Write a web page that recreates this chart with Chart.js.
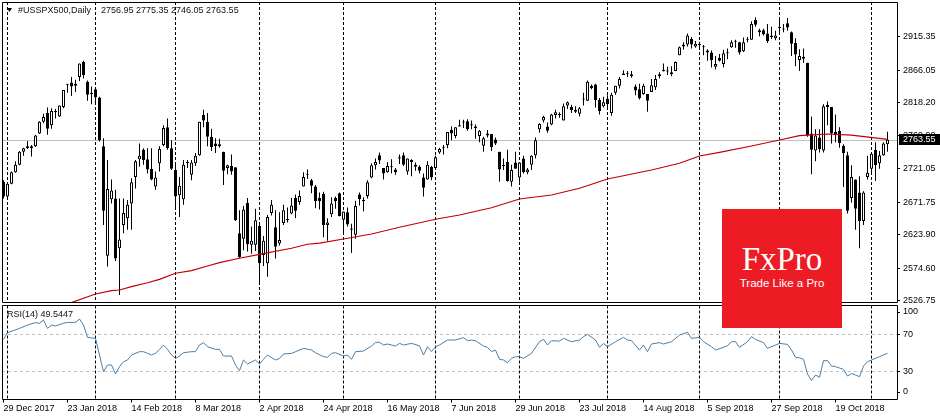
<!DOCTYPE html>
<html><head><meta charset="utf-8">
<script src="https://cdn.jsdelivr.net/npm/chart.js@4.4.1/dist/chart.umd.min.js"></script>
<style>
html,body{margin:0;padding:0;background:#fff;width:940px;height:420px;overflow:hidden;}
#wrap{position:relative;width:940px;height:420px;}
canvas{position:absolute;left:0;}
#main{top:0;}
#rsi{top:304px;}
#logo{position:absolute;left:722px;top:209px;width:120px;height:119px;background:#ED1B24;color:#fff;text-align:center;z-index:5;}
#logo .b{position:absolute;left:0;width:120px;top:34px;font-family:"Liberation Serif",serif;font-size:33px;line-height:33px;white-space:nowrap;}
#logo .s{position:absolute;left:0;width:120px;top:67px;font-family:"Liberation Sans",sans-serif;font-size:11.5px;line-height:14px;white-space:nowrap;}
</style></head><body>
<div id="wrap">
<canvas id="main" width="940" height="304"></canvas>
<canvas id="rsi" width="940" height="116"></canvas>
<div id="logo"><div class="b">FxPro</div><div class="s">Trade Like a Pro</div></div>
</div>
<script>
// ---------- DATA ----------
const headerSymbol = '#USSPX500,Daily';
const headerValues = '2756.95 2775.35 2746.05 2763.55';
const rsiLabel = 'RSI(14) 49.5447';
const lastPrice = 2763.55;

const priceTicks = [2526.75, 2574.60, 2623.90, 2671.75, 2721.05, 2769.90, 2818.20, 2866.05, 2915.35];
const rsiTicks = [0, 30, 70, 100];
const rsiLevels = [30, 70];

const tickIdx = [0,16,32,48,64,80,96,112,128,144,160,176,192,208];
const tickText = ['29 Dec 2017','23 Jan 2018','14 Feb 2018','8 Mar 2018','2 Apr 2018','24 Apr 2018','16 May 2018','7 Jun 2018','29 Jun 2018','23 Jul 2018','14 Aug 2018','5 Sep 2018','27 Sep 2018','19 Oct 2018'];
// first bar of each month (period separators)
const monthStartIdx = [1,23,43,64,85,108,129,151,174,194,217];

const opens = [
2702,2680,2699,2716,2727,2746,2751,2754,2754,2773,
2790,2803,2785,2806,2798,2812,2844,2848,2846,2856,
2878,2849,2833,2838,2826,2754,2593,2676,2677,2604,
2638,2648,2670,2709,2735,2749,2735,2721,2695,2729,
2756,2782,2751,2719,2682,2676,2731,2712,2729,2741,
2800,2790,2768,2758,2754,2746,2722,2725,2723,2626,
2618,2671,2609,2609,2637,2594,2582,2656,2635,2611,
2641,2647,2655,2678,2672,2695,2712,2704,2695,2678,
2684,2638,2654,2678,2685,2646,2657,2631,2624,2683,
2673,2681,2708,2726,2741,2722,2716,2723,2720,2738,
2741,2717,2734,2727,2724,2708,2705,2724,2722,2745,
2751,2756,2778,2769,2783,2789,2791,2786,2781,2769,
2755,2773,2772,2764,2746,2725,2731,2702,2730,2708,
2736,2716,2727,2741,2779,2792,2783,2786,2800,2800,
2792,2814,2812,2808,2802,2824,2821,2843,2845,2822,
2813,2824,2803,2833,2843,2859,2860,2860,2842,2838,
2831,2831,2834,2841,2857,2865,2864,2863,2865,2888,
2904,2904,2912,2901,2905,2900,2895,2892,2871,2884,
2875,2891,2900,2909,2907,2894,2910,2911,2940,2925,
2925,2920,2915,2913,2929,2927,2935,2922,2906,2881,
2886,2877,2773,2748,2767,2748,2815,2812,2775,2777,
2755,2741,2678,2705,2686,2644,2709,2721,2749,2729,
2741,2756.95];
const highs = [
2704,2699,2717,2732,2747,2752,2762,2756,2771,2791,
2802,2811,2810,2809,2814,2837,2846,2856,2852,2876,
2880,2851,2842,2840,2827,2766,2734,2705,2690,2677,
2677,2675,2707,2734,2758,2751,2751,2751,2717,2754,
2785,2795,2763,2731,2709,2734,2734,2734,2744,2790,
2808,2803,2780,2766,2765,2746,2727,2742,2723,2660,
2666,2678,2636,2662,2641,2622,2653,2675,2660,2657,
2668,2664,2678,2683,2689,2716,2720,2706,2697,2686,
2687,2648,2679,2680,2686,2658,2664,2640,2674,2686,
2679,2704,2729,2736,2745,2722,2731,2735,2722,2742,
2745,2736,2735,2730,2726,2714,2732,2725,2740,2752,
2756,2775,2783,2782,2793,2793,2794,2792,2786,2778,
2768,2778,2772,2767,2746,2736,2749,2727,2746,2730,
2740,2722,2741,2767,2788,2799,2789,2802,2808,2804,
2817,2820,2815,2813,2812,2833,2851,2845,2846,2825,
2827,2829,2833,2843,2856,2866,2865,2865,2845,2846,
2846,2831,2853,2859,2863,2876,2871,2872,2879,2901,
2907,2920,2915,2909,2908,2903,2897,2895,2887,2890,
2896,2898,2910,2911,2908,2914,2915,2938,2944,2927,
2927,2934,2930,2924,2940,2934,2943,2923,2913,2897,
2898,2877,2798,2779,2779,2816,2820,2812,2801,2782,
2757,2746,2726,2705,2710,2688,2740,2745,2760,2747,
2760,2775.35];
const lows = [
2677,2678,2698,2715,2726,2740,2750,2739,2753,2772,
2788,2771,2780,2795,2797,2810,2833,2828,2834,2850,
2854,2821,2816,2815,2761,2638,2577,2670,2585,2535,
2626,2631,2631,2692,2724,2727,2714,2704,2690,2717,
2754,2749,2719,2663,2650,2668,2722,2704,2725,2740,
2782,2754,2747,2744,2752,2697,2713,2712,2644,2589,
2601,2599,2596,2600,2553,2578,2562,2652,2589,2608,
2638,2642,2654,2648,2668,2695,2706,2685,2663,2661,
2620,2615,2650,2662,2651,2628,2636,2597,2618,2667,
2658,2677,2707,2720,2728,2705,2715,2714,2712,2728,
2725,2712,2710,2718,2714,2680,2705,2704,2722,2743,
2742,2751,2763,2766,2783,2781,2777,2779,2765,2760,
2746,2767,2747,2756,2702,2719,2702,2695,2721,2702,
2714,2713,2719,2736,2774,2789,2774,2785,2795,2796,
2792,2809,2803,2803,2798,2814,2821,2838,2811,2801,
2811,2809,2799,2830,2839,2859,2856,2855,2829,2823,
2830,2805,2834,2837,2854,2864,2859,2857,2865,2888,
2896,2901,2898,2899,2900,2888,2880,2870,2867,2879,
2870,2882,2899,2899,2889,2893,2907,2911,2930,2916,
2917,2906,2912,2910,2921,2922,2924,2887,2872,2865,
2877,2768,2713,2732,2745,2745,2785,2758,2760,2752,
2694,2655,2671,2631,2604,2638,2705,2712,2703,2721,
2740,2746.05];
const closes = [
2680,2699,2716,2727,2746,2751,2754,2751,2770,2790,
2797,2780,2806,2804,2814,2837,2845,2842,2843,2876,
2859,2830,2831,2826,2763,2659,2691,2689,2589,2617,
2656,2668,2701,2732,2740,2734,2720,2705,2708,2750,
2781,2751,2721,2680,2696,2727,2729,2730,2740,2790,
2792,2768,2753,2754,2757,2718,2726,2717,2645,2591,
2661,2610,2615,2645,2582,2615,2650,2668,2606,2616,
2660,2645,2667,2659,2681,2709,2712,2696,2673,2673,
2638,2642,2670,2673,2651,2658,2639,2633,2666,2676,
2675,2701,2726,2731,2733,2714,2725,2723,2716,2736,
2727,2736,2731,2724,2718,2693,2727,2708,2738,2750,
2752,2775,2773,2782,2785,2790,2779,2785,2783,2777,
2766,2770,2753,2758,2720,2726,2703,2719,2721,2730,
2716,2720,2740,2763,2787,2797,2777,2801,2804,2801,
2813,2819,2807,2805,2810,2823,2849,2840,2822,2806,
2819,2816,2830,2843,2853,2861,2861,2857,2836,2825,
2843,2821,2844,2853,2860,2866,2865,2860,2878,2900,
2901,2917,2904,2905,2903,2900,2892,2881,2875,2880,
2891,2892,2907,2908,2892,2907,2911,2934,2933,2922,
2919,2909,2917,2917,2928,2926,2929,2905,2889,2887,
2883,2770,2749,2770,2750,2813,2812,2773,2771,2759,
2744,2659,2709,2662,2644,2686,2715,2743,2726,2741,
2758,2763.55];

// 200-period moving average, read at bar indices
const maPoints = [[0,2478],[8,2497],[14,2512],[17,2524],[23,2536.6],[27,2541.5],[29,2542.5],[32,2547.4],[36,2553.2],[39,2558.2],[43,2567.1],[47,2570.9],[51,2577.8],[54,2582.7],[59,2589.2],[64,2595],[72,2603.9],[76,2609.8],[79,2611.5],[85,2617.6],[92,2624.9],[99,2634.8],[108,2646.6],[114,2652.9],[122,2663.6],[129,2676.4],[137,2682.3],[144,2692.2],[151,2705.9],[162,2719.1],[169,2729],[174,2739.8],[179,2745.2],[187,2754.5],[194,2763.3],[199,2769.6],[206,2772.1],[212,2770.6],[221,2764.3]];

// RSI(14), read at bar indices
const rsiPoints = [[0,64.5],[1,71.8],[4,76.4],[6,80.0],[8,82.6],[9,81.9],[10,85.5],[11,76.4],[12,80.0],[13,79.0],[15,81.9],[16,82.9],[18,82.9],[19,86.5],[20,80.0],[21,66.7],[23,65.6],[25,29.6],[26,36.8],[27,36.8],[28,27.1],[29,35.0],[30,40.4],[31,42.2],[32,47.6],[34,51.2],[35,51.2],[36,49.4],[37,47.6],[38,49.4],[39,53.7],[40,58.4],[41,53.7],[42,47.6],[43,44.0],[44,46.5],[45,50.1],[47,51.2],[48,51.2],[49,58.4],[50,61.0],[51,56.6],[53,53.7],[54,53.7],[55,46.5],[57,46.5],[58,36.8],[59,30.7],[60,42.2],[61,37.9],[63,42.2],[64,37.9],[65,43.0],[66,47.6],[68,42.2],[69,44.0],[70,48.7],[72,49.4],[73,51.2],[75,54.8],[77,53.0],[78,50.1],[80,45.8],[81,45.1],[82,49.4],[83,50.1],[85,46.5],[86,47.6],[87,43.0],[88,51.2],[90,51.9],[92,57.3],[93,61.3],[94,61.3],[95,58.4],[96,59.5],[98,57.3],[99,60.2],[100,58.4],[102,60.2],[104,57.5],[105,47.6],[106,56.6],[107,51.2],[108,56.6],[109,58.4],[111,63.8],[113,63.8],[115,66.3],[116,63.1],[117,63.8],[118,63.1],[120,57.3],[121,55.9],[122,51.2],[123,53.0],[124,43.0],[125,42.2],[126,39.3],[127,44.0],[128,45.8],[129,45.8],[130,44.0],[132,49.4],[134,62.0],[135,64.5],[136,58.4],[137,63.1],[139,62.7],[140,65.6],[142,62.0],[144,63.8],[145,67.4],[146,70.0],[148,63.8],[149,55.9],[150,60.2],[151,56.6],[153,62.0],[155,66.7],[156,63.8],[157,63.1],[159,53.0],[160,58.4],[161,51.2],[162,59.5],[164,61.0],[165,59.5],[167,62.0],[169,69.2],[171,72.1],[172,65.6],[174,66.7],[175,62.0],[177,56.6],[178,53.0],[180,55.9],[181,57.7],[182,62.0],[183,62.0],[184,55.9],[186,62.0],[187,67.4],[188,64.5],[190,61.0],[191,54.8],[193,58.4],[194,60.2],[196,59.1],[197,53.0],[198,45.1],[199,44.5],[200,43.0],[201,27.0],[202,19.9],[203,26.0],[204,23.5],[205,41.5],[206,41.5],[207,35.7],[208,35.0],[210,32.1],[211,24.9],[212,27.5],[213,26.0],[214,24.2],[215,35.7],[216,40.4],[217,42.2],[219,45.8],[221,49.5]];

// ---------- CHART ----------
Chart.defaults.font.family = 'Liberation Sans';
const FONT = '9px "Liberation Sans"';
const xMin = -0.375, xMax = 223.375;

const bodies = opens.map((o, i) => ({x: i, y: [o, closes[i]]}));
const wicks = lows.map((l, i) => ({x: i, y: [l, highs[i]]}));
const bodyColors = opens.map((o, i) => closes[i] >= o ? '#ffffff' : '#000000');

const mainDecor = {
  id: 'mainDecor',
  beforeDatasetsDraw(chart) {
    const {ctx, chartArea: a, scales: {x, y}} = chart;
    ctx.save();
    const py = Math.round(y.getPixelForValue(lastPrice)) + 0.5;
    ctx.strokeStyle = '#C0C0C0'; ctx.lineWidth = 1;
    ctx.beginPath(); ctx.moveTo(a.left, py); ctx.lineTo(a.right, py); ctx.stroke();
    ctx.strokeStyle = '#000'; ctx.setLineDash([3, 2]);
    monthStartIdx.forEach(i => {
      const px = x.getPixelForValue(i);
      ctx.beginPath(); ctx.moveTo(px, a.top); ctx.lineTo(px, a.bottom); ctx.stroke();
    });
    ctx.restore();
  },
  afterDraw(chart) {
    const {ctx, chartArea: a, scales: {y}} = chart;
    ctx.save();
    ctx.strokeStyle = '#000'; ctx.lineWidth = 1;
    const L = a.left + 0.5, R = a.right + 0.5, T = a.top + 0.5, B = Math.floor(a.bottom) + 0.5;
    ctx.beginPath();
    ctx.moveTo(L, T); ctx.lineTo(R, T); ctx.lineTo(R, B); ctx.lineTo(L, B); ctx.closePath();
    ctx.stroke();
    // header
    ctx.fillStyle = '#000';
    ctx.beginPath(); ctx.moveTo(7, 8); ctx.lineTo(12, 8); ctx.lineTo(9.5, 12); ctx.closePath(); ctx.fill();
    ctx.font = FONT; ctx.textBaseline = 'middle'; ctx.textAlign = 'left';
    ctx.fillStyle = '#111';
    ctx.fillText(headerSymbol, 18, 10.5);
    ctx.fillText(headerValues, 101, 10.5);
    // last price label
    const py = Math.round(y.getPixelForValue(lastPrice));
    ctx.fillStyle = '#000';
    ctx.fillRect(a.right + 2, py - 6, 940 - a.right - 2, 11);
    ctx.fillStyle = '#fff';
    ctx.fillText(lastPrice.toFixed(2), a.right + 6, py);
    ctx.restore();
  }
};

new Chart(document.getElementById('main'), {
  type: 'bar',
  data: {
    datasets: [
      {type: 'line', data: maPoints.map(p => ({x: p[0], y: p[1]})), borderColor: '#C00000', borderWidth: 1.2, pointRadius: 0, tension: 0, order: -1},
      {data: bodies, backgroundColor: bodyColors, borderColor: '#000', borderWidth: 1, borderSkipped: false, grouped: false, barPercentage: 0.75, categoryPercentage: 1, maxBarThickness: 3, minBarLength: 1, inflateAmount: 0, order: 0},
      {data: wicks, backgroundColor: '#000', borderWidth: 0, grouped: false, barPercentage: 0.25, categoryPercentage: 1, maxBarThickness: 1, inflateAmount: 0, order: 1}
    ]
  },
  options: {
    responsive: false, animation: false, devicePixelRatio: 1,
    layout: {padding: {left: 2, top: 2, right: 0, bottom: 1.5}},
    plugins: {legend: {display: false}, tooltip: {enabled: false}},
    scales: {
      x: {type: 'linear', min: xMin, max: xMax, display: false, offset: false},
      y: {
        type: 'linear', position: 'right', min: 2524.09, max: 2966.43,
        afterBuildTicks: s => { s.ticks = priceTicks.map(v => ({value: v})); },
        afterFit: s => { s.width = 43; s.paddingTop = 0; s.paddingBottom = 0; },
        ticks: {callback: v => Number(v).toFixed(2), font: {family: 'Liberation Sans', size: 9}, color: '#000', padding: 3, autoSkip: false},
        grid: {display: true, drawOnChartArea: false, drawTicks: true, tickLength: 3, color: '#000'},
        border: {display: false}
      }
    }
  },
  plugins: [mainDecor]
});

const rsiDecor = {
  id: 'rsiDecor',
  beforeDatasetsDraw(chart) {
    const {ctx, chartArea: a, scales: {x, y}} = chart;
    ctx.save();
    ctx.lineWidth = 1;
    ctx.strokeStyle = '#C0C0C0'; ctx.setLineDash([3, 3]);
    rsiLevels.forEach(v => {
      const py = Math.round(y.getPixelForValue(v)) + 0.5;
      ctx.beginPath(); ctx.moveTo(a.left, py); ctx.lineTo(a.right, py); ctx.stroke();
    });
    ctx.strokeStyle = '#000'; ctx.setLineDash([3, 2]);
    monthStartIdx.forEach(i => {
      const px = x.getPixelForValue(i);
      ctx.beginPath(); ctx.moveTo(px, a.top); ctx.lineTo(px, a.bottom); ctx.stroke();
    });
    ctx.restore();
  },
  afterDraw(chart) {
    const {ctx, chartArea: a, scales: {y}} = chart;
    ctx.save();
    ctx.strokeStyle = '#000'; ctx.lineWidth = 1;
    const L = a.left + 0.5, R = a.right + 0.5, T = Math.floor(a.top) + 0.5, B = Math.floor(a.bottom) + 0.5;
    ctx.beginPath();
    ctx.moveTo(L, T); ctx.lineTo(R, T); ctx.lineTo(R, B); ctx.lineTo(L, B); ctx.closePath();
    ctx.stroke();
    ctx.font = FONT; ctx.textBaseline = 'middle'; ctx.textAlign = 'left';
    ctx.fillStyle = '#111';
    ctx.fillText(rsiLabel, 7, 11);
    ctx.fillStyle = '#000';
    rsiTicks.forEach(v => {
      let py = y.getPixelForValue(v);
      py = Math.min(Math.max(py, a.top + 6.5), a.bottom - 7.5);
      const yy = Math.round(py) + 0.5;
      ctx.beginPath(); ctx.moveTo(a.right, yy); ctx.lineTo(a.right + 3, yy); ctx.stroke();
      ctx.fillText(String(v), a.right + 6, py);
    });
    ctx.restore();
  }
};

new Chart(document.getElementById('rsi'), {
  type: 'line',
  data: {datasets: [{data: rsiPoints.map(p => ({x: p[0], y: p[1]})), borderColor: '#4A7EA6', borderWidth: 1, pointRadius: 0, tension: 0}]},
  options: {
    responsive: false, animation: false, devicePixelRatio: 1,
    layout: {padding: {left: 2, top: 1.5, right: 0, bottom: 0}},
    plugins: {legend: {display: false}, tooltip: {enabled: false}},
    scales: {
      x: {
        type: 'linear', min: xMin, max: xMax, offset: false,
        afterBuildTicks: s => { s.ticks = tickIdx.map(v => ({value: v})); },
        afterFit: s => { s.height = 20.5; s.paddingLeft = 0; s.paddingRight = 0; },
        ticks: {callback: v => tickText[tickIdx.indexOf(v)], align: 'start', maxRotation: 0, minRotation: 0, autoSkip: false, font: {family: 'Liberation Sans', size: 9}, color: '#000', padding: 1},
        grid: {display: true, drawOnChartArea: false, drawTicks: true, tickLength: 3, color: '#000'},
        border: {display: false}
      },
      y: {
        type: 'linear', position: 'right', min: -0.49, max: 101.13,
        afterFit: s => { s.width = 43; s.paddingTop = 0; s.paddingBottom = 0; },
        ticks: {display: false},
        grid: {display: false},
        border: {display: false}
      }
    }
  },
  plugins: [rsiDecor]
});
</script>
</body></html>
